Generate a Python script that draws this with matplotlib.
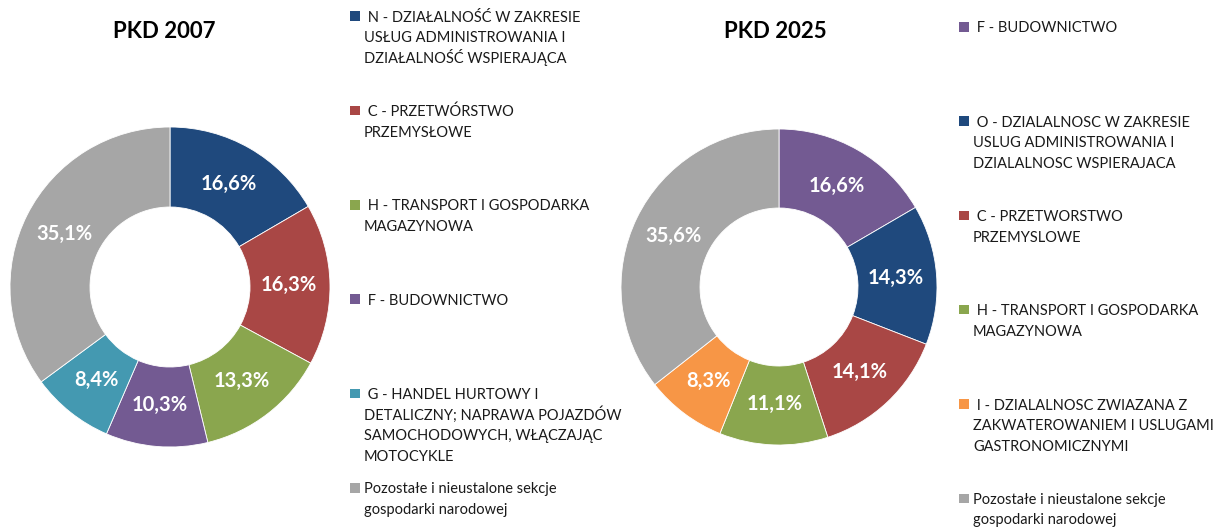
import matplotlib
matplotlib.use("Agg")
import matplotlib.pyplot as plt
from matplotlib.patches import Rectangle
import numpy as np

W, H, DPI = 1216, 527, 100

title_left = "PKD 2007"
labels_left = [
    " N - DZIAŁALNOŚĆ W ZAKRESIE\nUSŁUG ADMINISTROWANIA I\nDZIAŁALNOŚĆ WSPIERAJĄCA",
    " C - PRZETWÓRSTWO\nPRZEMYSŁOWE",
    " H - TRANSPORT I GOSPODARKA\nMAGAZYNOWA",
    " F - BUDOWNICTWO",
    " G - HANDEL HURTOWY I\nDETALICZNY; NAPRAWA POJAZDÓW\nSAMOCHODOWYCH, WŁĄCZAJĄC\nMOTOCYKLE",
    "Pozostałe i nieustalone sekcje\ngospodarki narodowej",
]
values_left = [16.6, 16.3, 13.3, 10.3, 8.4, 35.1]
colors_left = ["#1F497D", "#A94745", "#8AA64E", "#735A92", "#4499B1", "#A6A6A6"]

title_right = "PKD 2025"
labels_right = [
    " F - BUDOWNICTWO",
    " O - DZIALALNOSC W ZAKRESIE\nUSLUG ADMINISTROWANIA I\nDZIALALNOSC WSPIERAJACA",
    " C - PRZETWORSTWO\nPRZEMYSLOWE",
    " H - TRANSPORT I GOSPODARKA\nMAGAZYNOWA",
    " I - DZIALALNOSC ZWIAZANA Z\nZAKWATEROWANIEM I USLUGAMI\nGASTRONOMICZNYMI",
    "Pozostałe i nieustalone sekcje\ngospodarki narodowej",
]
values_right = [16.6, 14.3, 14.1, 11.1, 8.3, 35.6]
colors_right = ["#735A92", "#1F497D", "#A94745", "#8AA64E", "#F79646", "#A6A6A6"]

plt.rcParams['font.family'] = ['Lato', 'DejaVu Sans']

fig = plt.figure(figsize=(W / DPI, H / DPI), dpi=DPI)


def px_axes(cx, cy, r):
    return fig.add_axes([(cx - r) / W, 1 - (cy + r) / H, 2 * r / W, 2 * r / H])


def donut(cx, cy, r, values, colors, title, tx):
    ax = px_axes(cx, cy, r)
    ax.pie(values, colors=colors, startangle=90, counterclock=False,
           radius=1.0, wedgeprops=dict(width=0.5, edgecolor="white", linewidth=0.6))
    total = sum(values)
    ang = 90.0
    for v in values:
        mid = ang - v / total * 360 / 2
        ang -= v / total * 360
        x = 0.74 * np.cos(np.radians(mid))
        y = 0.74 * np.sin(np.radians(mid))
        ax.text(x, y, f"{v:.1f}%".replace(".", ","), ha="center", va="center",
                color="white", fontsize=14.5, fontweight="bold")
    ax.set_xlim(-1, 1)
    ax.set_ylim(-1, 1)
    ax.set_aspect("equal")
    ax.axis("off")
    fig.text(tx / W, 1 - 32 / H, title, ha="center", va="center",
             fontsize=16, fontweight="bold", color="black")


def legend(x_sq, y0, step, labels, colors, line_h=20.6):
    for i, (lab, c) in enumerate(zip(labels, colors)):
        y = y0 + i * step  # cap-centre of first line (px from top)
        fig.patches.append(Rectangle((x_sq / W, 1 - (y + 4.5) / H), 9.5 / W, 9.5 / H,
                                     transform=fig.transFigure, facecolor=c, edgecolor="none"))
        for j, line in enumerate(lab.split("\n")):
            yb = y + j * line_h + 5.3
            fig.text((x_sq + 14) / W, 1 - yb / H, line, ha="left", va="baseline",
                     fontsize=10.5, color="#1a1a1a")


donut(170, 287, 160, values_left, colors_left, title_left, 164)
donut(779, 287, 158, values_right, colors_right, title_right, 775)
legend(350, 16.5, 94.3, labels_left, colors_left)
legend(959, 27, 94.3, labels_right, colors_right)

fig.savefig("out.png", dpi=DPI)
